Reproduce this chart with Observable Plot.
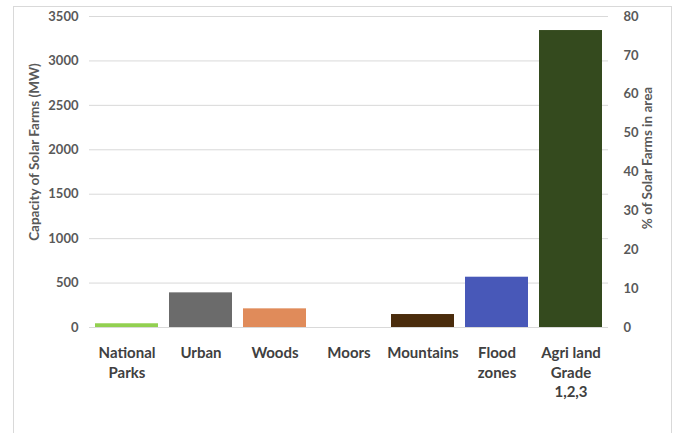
<!DOCTYPE html>
<html>
<head>
<meta charset="utf-8">
<script src="https://cdn.jsdelivr.net/npm/d3@7"></script>
<script src="https://cdn.jsdelivr.net/npm/@observablehq/plot@0.6"></script>
<style>
  html, body { margin: 0; padding: 0; background: #fff; overflow: hidden; }
  #wrap { position: relative; width: 675px; height: 433px; }
  #border { position: absolute; left: 13px; top: 6px; width: 659px; height: 500px; border: 1px solid #d9d9d9; box-sizing: border-box; }
  #chart { position: absolute; left: 0; top: 0; }
</style>
</head>
<body>
<div id="wrap"><div id="border"></div><div id="chart"></div></div>
<script>
const categories = ["National Parks", "Urban", "Woods", "Moors", "Mountains", "Flood zones", "Agri land Grade 1,2,3"];
const categoryLabels = ["National\nParks", "Urban", "Woods", "Moors", "Mountains", "Flood\nzones", "Agri land\nGrade\n1,2,3"];
const capacityMW = [42, 390, 210, 0, 146, 566, 3342];
const barColors = ["#92d050", "#6b6b6b", "#e08b5a", "#ffffff", "#4a2c0c", "#4858b8", "#344a1e"];
const mwTicks = [0, 500, 1000, 1500, 2000, 2500, 3000, 3500];
const pctTicks = [0, 10, 20, 30, 40, 50, 60, 70, 80];
const mwMax = 3500;
const pctMax = 80;

const data = categories.map((c, i) => ({category: c, capacity: capacityMW[i], color: barColors[i]}));
const labelMap = new Map(categories.map((c, i) => [c, categoryLabels[i]]));

const chart = Plot.plot({
  width: 675,
  height: 433,
  marginLeft: 89,
  marginRight: 67,
  marginTop: 16,
  marginBottom: 106,
  style: {fontFamily: "Lato, 'Open Sans', sans-serif", background: "transparent"},
  x: {domain: categories, paddingInner: 0.155, paddingOuter: 0.0775, label: null},
  y: {domain: [0, mwMax], label: null},
  color: {type: "identity"},
  marks: [
    Plot.gridY(mwTicks, {stroke: "#d9d9d9", strokeOpacity: 1}),
    Plot.barY(data, {x: "category", y: "capacity", fill: "color"}),
    Plot.axisY(mwTicks, {anchor: "left", tickSize: 0, tickPadding: 11, fontSize: 13, fontWeight: "bold", fill: "#595959", label: null, tickFormat: d => String(d)}),
    Plot.axisY(pctTicks.map(p => p * mwMax / pctMax), {anchor: "right", tickSize: 0, tickPadding: 15, fontSize: 13, fontWeight: "bold", fill: "#595959", label: null, tickFormat: d => String(Math.round(d * pctMax / mwMax))}),
    Plot.axisX({tickSize: 0, tickPadding: 17, fontSize: 15, fontWeight: "bold", fill: "#404040", lineHeight: 1.3, label: null, tickFormat: d => labelMap.get(d)}),
    Plot.text(["Capacity of Solar Farms (MW)"], {frameAnchor: "left", textAnchor: "middle", dx: -55, dy: -20, rotate: -90, fontSize: 13.5, fontWeight: "bold", fill: "#595959"}),
    Plot.text(["% of Solar Farms in area"], {frameAnchor: "right", textAnchor: "middle", dx: 39, dy: -14, rotate: -90, fontSize: 13.5, fontWeight: "bold", fill: "#595959"})
  ]
});
document.getElementById("chart").appendChild(chart);
</script>
</body>
</html>
